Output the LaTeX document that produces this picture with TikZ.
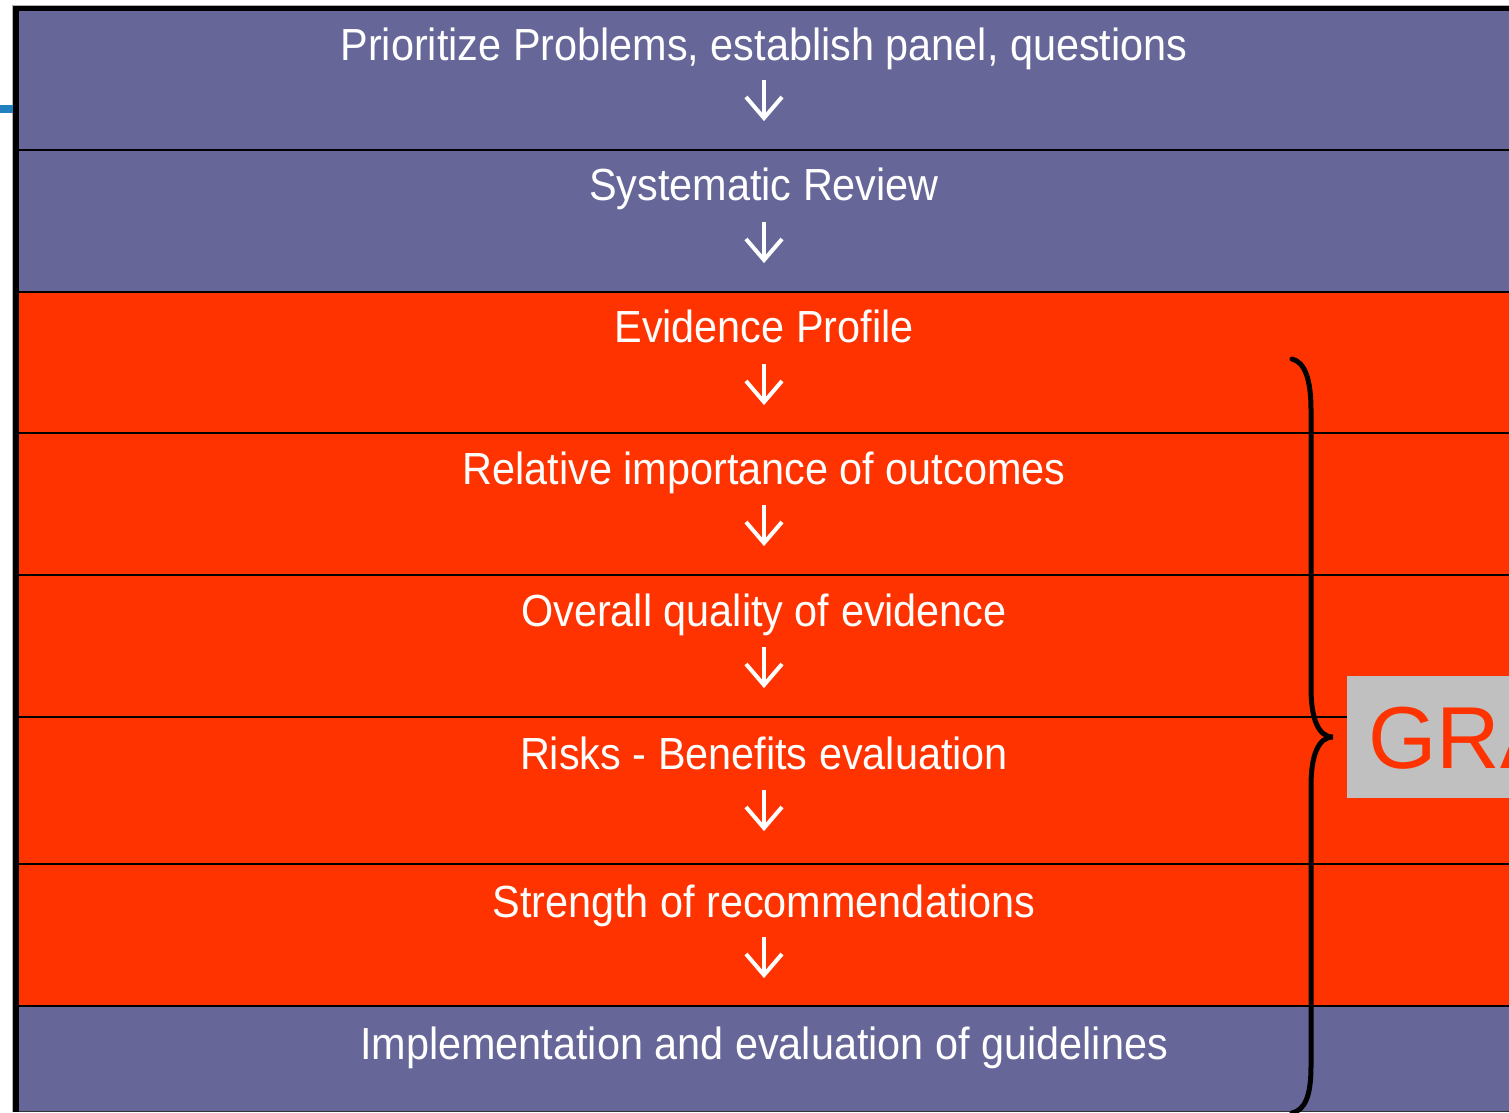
\documentclass[tikz,border=0pt]{standalone}
\usepackage{fontspec}
\setmainfont{Liberation Sans}
\newfontfamily\rowfont[FakeStretch=0.92]{Liberation Sans}
\definecolor{purp}{RGB}{102,102,153}
\definecolor{redo}{RGB}{255,51,0}
\definecolor{boxgray}{RGB}{192,192,192}
\definecolor{stub}{RGB}{32,128,192}
\tikzset{
  rowtxt/.style={text=white, font=\rowfont\fontsize{45}{54}\selectfont, anchor=base, inner sep=0pt},
  downarr/.style={draw=white, line width=4pt},
  divider/.style={draw=black, line width=2.5pt},
  bracestyle/.style={draw=black, line width=5pt, line cap=round},
}
\begin{document}
\begin{tikzpicture}[x=1pt,y=-1pt]
\useasboundingbox (0,0) rectangle (1509,1112);
\clip (0,0) rectangle (1509,1112);
\fill[white] (0,0) rectangle (1509,1112);
% row backgrounds
\fill[purp] (16,8) rectangle (1509,292);
\fill[redo] (16,292) rectangle (1509,1006);
\fill[purp] (16,1006) rectangle (1509,1112);
% dividers
\foreach \yy in {150,292,433,575,717,864,1006} {
  \draw[divider] (16,\yy) -- (1509,\yy);
}
\draw[black!80, line width=1.5pt] (16,1111.5) -- (1509,1111.5);
% borders
\draw[gray!60, line width=1pt] (12,5) -- (1509,5);
\draw[gray!60, line width=1pt] (12.5,5) -- (12.5,1112);
\draw[black, line width=5.5pt] (13,8.5) -- (1509,8.5);
\draw[black, line width=6pt] (16,6) -- (16,1112);
\fill[stub] (0,105) rectangle (13,112.5);
% GRADE box
\node[fill=boxgray, anchor=north west, minimum width=200pt, minimum height=122pt, inner sep=0pt] (gbox) at (1347,676) {};
\node[anchor=base west, inner sep=0pt, text=redo, font=\fontsize{88}{96}\selectfont] (gtxt) at (1368,768) {GRADE};
% brace
\draw[bracestyle] (1292,359) .. controls (1305,362) and (1311,380) .. (1311,410) -- (1311,688) .. controls (1311,718) and (1318,737) .. (1333,737) .. controls (1318,737) and (1311,756) .. (1311,786) -- (1311,1066) .. controls (1311,1096) and (1305,1110) .. (1292,1113);
% row texts
\node[rowtxt] (t1) at (764,60) {Prioritize Problems, establish panel, questions};
\node[rowtxt] (t2) at (764,200) {Systematic Review};
\node[rowtxt] (t3) at (764,342) {Evidence Profile};
\node[rowtxt] (t4) at (764,484) {Relative importance of outcomes};
\node[rowtxt] (t5) at (764,626) {Overall quality of evidence};
\node[rowtxt] (t6) at (764,769) {Risks - Benefits evaluation};
\node[rowtxt] (t7) at (764,917) {Strength of recommendations};
\node[rowtxt] (t8) at (764,1059) {Implementation and evaluation of guidelines};
% arrows
\foreach \n/\tp in {1/8,2/150,3/292,4/433,5/575,6/718,7/865} {
  \coordinate (s\n) at (764,\tp+72);
  \coordinate (e\n) at (764,\tp+111);
  \draw[downarr] (s\n) -- (e\n);
  \draw[downarr, line join=miter] ([xshift=-18pt,yshift=22pt]e\n) -- ([yshift=1pt]e\n) -- ([xshift=18pt,yshift=22pt]e\n);
}
\end{tikzpicture}
\end{document}
